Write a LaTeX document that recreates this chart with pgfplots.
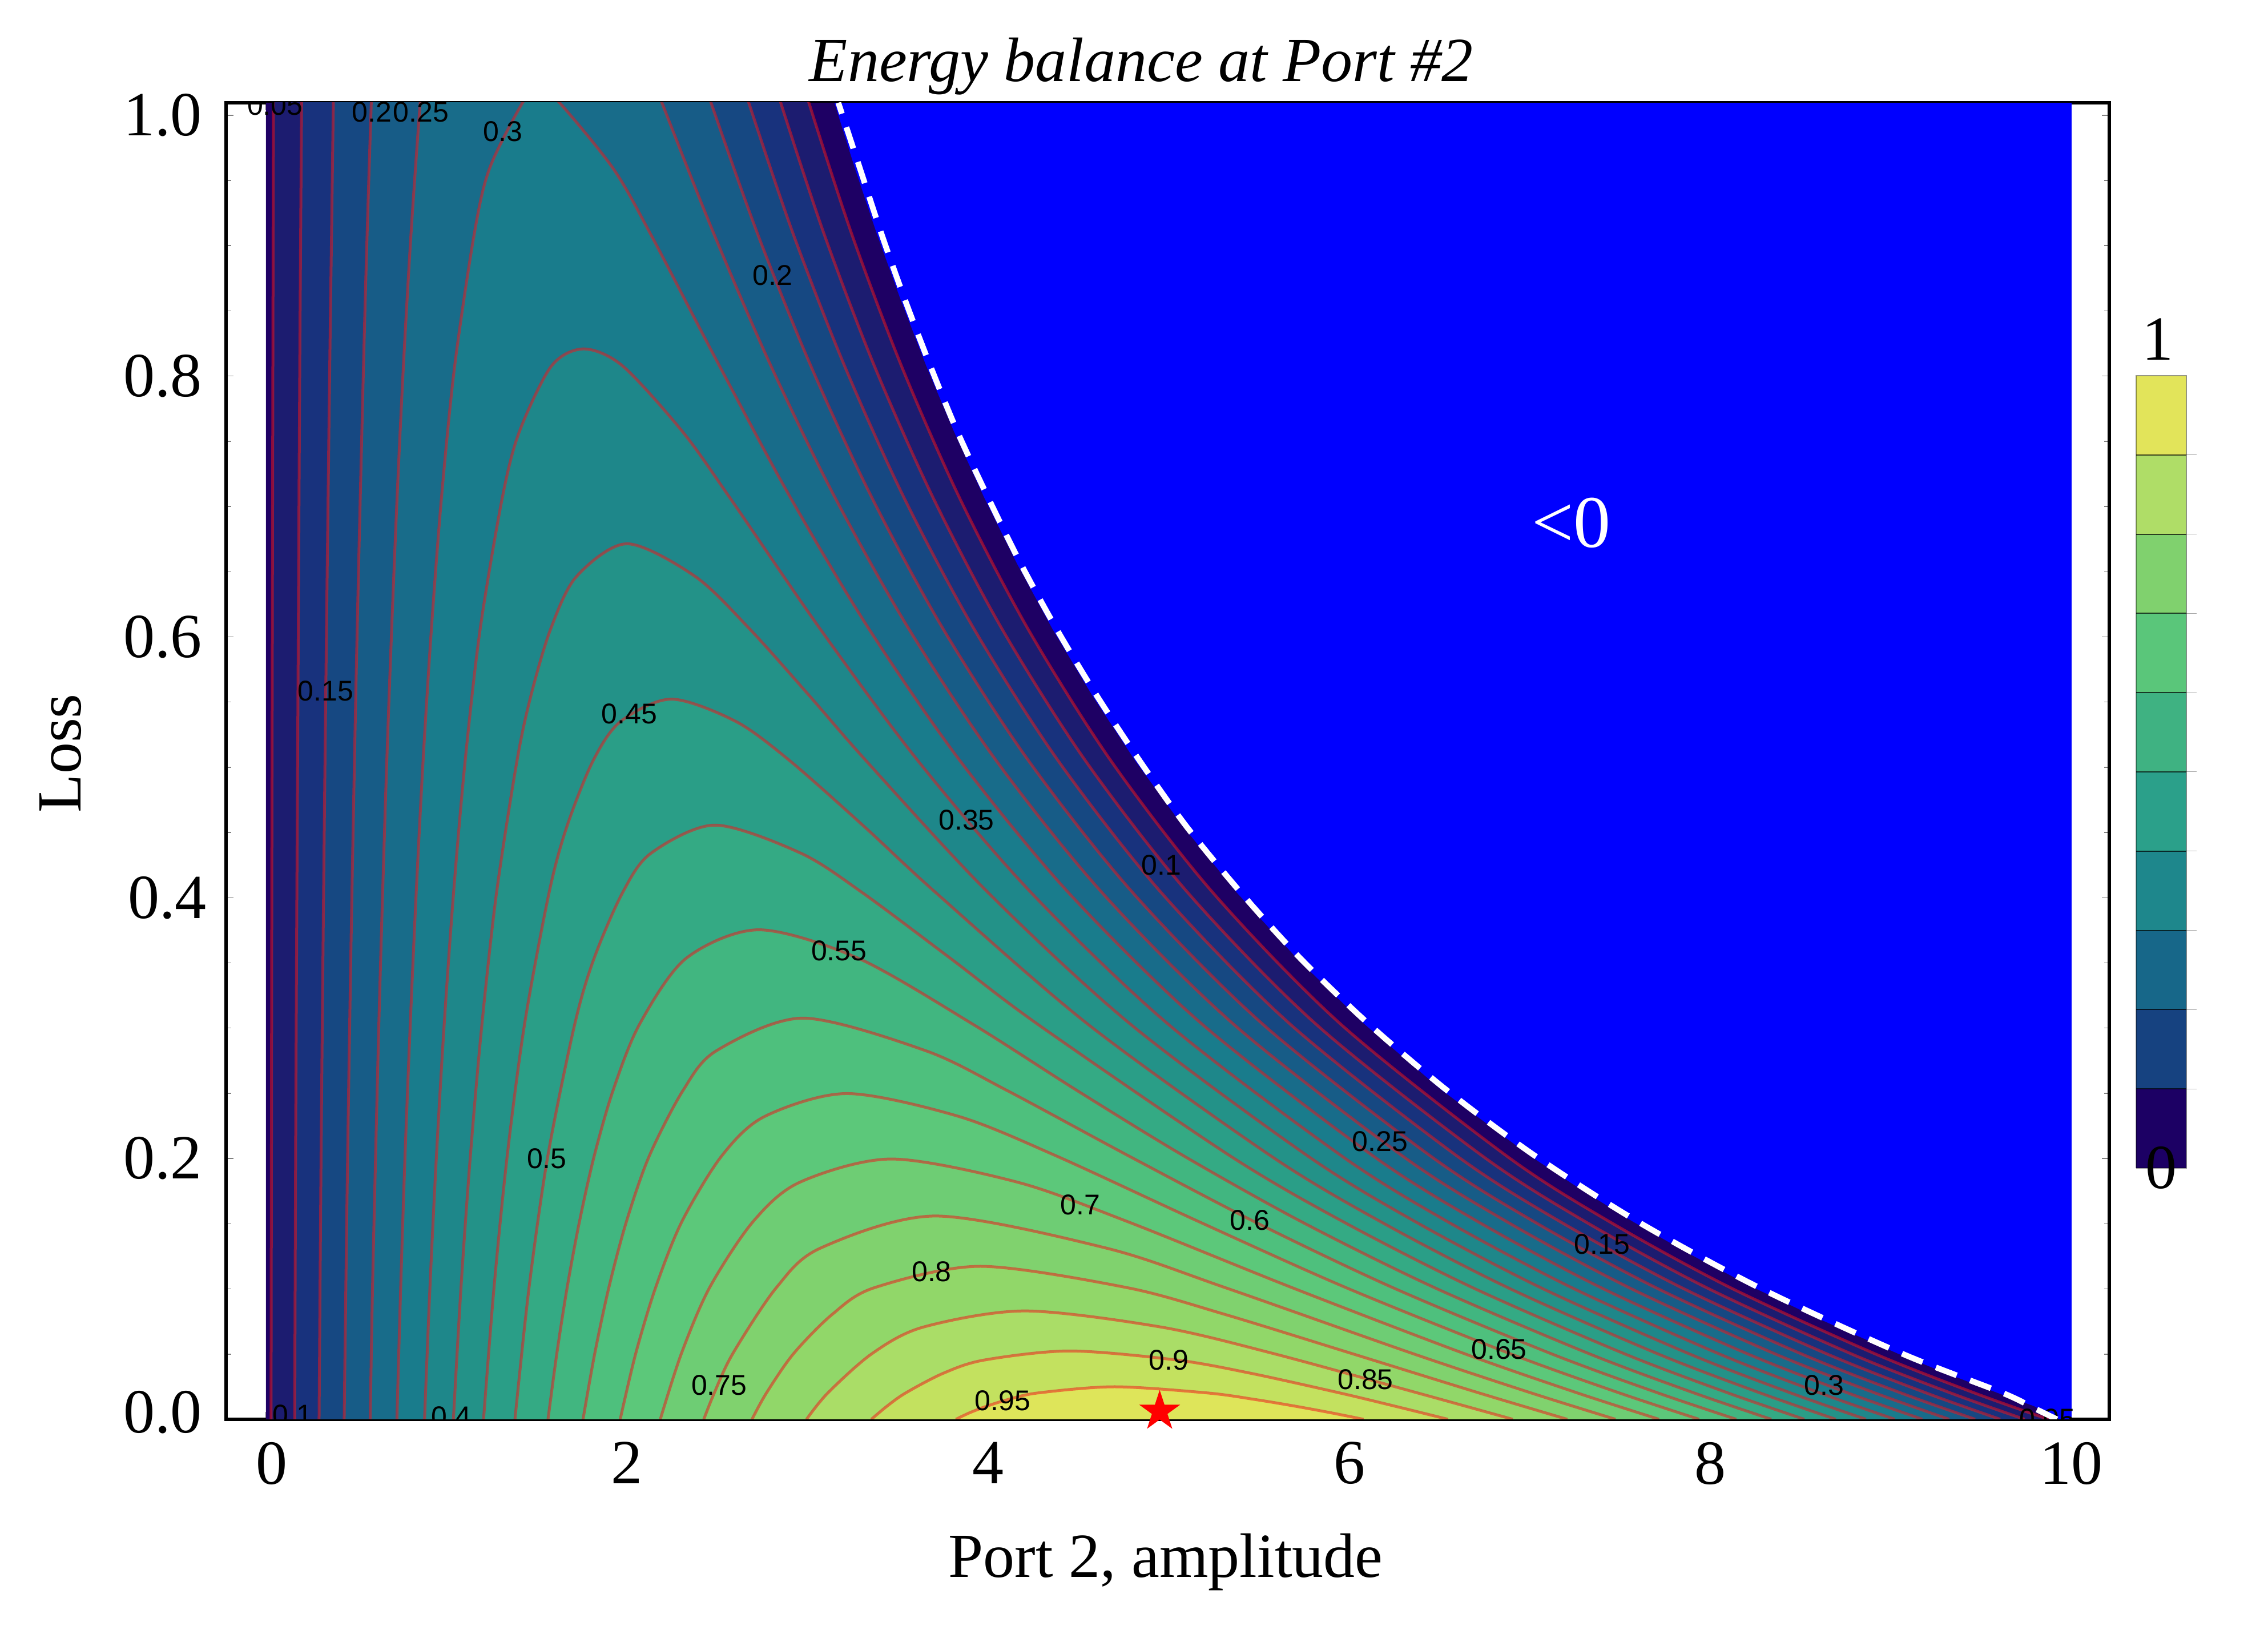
\documentclass[border=0pt]{standalone}
\usepackage{fontspec}
\setmainfont{Liberation Serif}
\newfontfamily\labfont{Liberation Sans}
\usepackage{pgfplots}
\usepackage{pgfplotstable}
\pgfplotsset{compat=1.18}
\pgfdeclareplotmark{fstar}{%
  \pgfpathmoveto{\pgfpointpolar{90}{\pgfplotmarksize}}%
  \pgfpathlineto{\pgfpointpolar{126}{.382\pgfplotmarksize}}%
  \pgfpathlineto{\pgfpointpolar{162}{\pgfplotmarksize}}%
  \pgfpathlineto{\pgfpointpolar{198}{.382\pgfplotmarksize}}%
  \pgfpathlineto{\pgfpointpolar{234}{\pgfplotmarksize}}%
  \pgfpathlineto{\pgfpointpolar{270}{.382\pgfplotmarksize}}%
  \pgfpathlineto{\pgfpointpolar{306}{\pgfplotmarksize}}%
  \pgfpathlineto{\pgfpointpolar{342}{.382\pgfplotmarksize}}%
  \pgfpathlineto{\pgfpointpolar{18}{\pgfplotmarksize}}%
  \pgfpathlineto{\pgfpointpolar{54}{.382\pgfplotmarksize}}%
  \pgfpathclose\pgfusepathqfill}
\definecolor{c00}{RGB}{30,0,100}
\definecolor{c05}{RGB}{28,28,112}
\definecolor{c10}{RGB}{24,50,125}
\definecolor{c15}{RGB}{22,72,130}
\definecolor{c20}{RGB}{23,92,135}
\definecolor{c25}{RGB}{24,108,138}
\definecolor{c30}{RGB}{25,124,140}
\definecolor{c35}{RGB}{30,135,138}
\definecolor{c40}{RGB}{35,146,136}
\definecolor{c45}{RGB}{42,158,135}
\definecolor{c50}{RGB}{52,170,132}
\definecolor{c55}{RGB}{65,182,128}
\definecolor{c60}{RGB}{78,192,125}
\definecolor{c65}{RGB}{92,200,122}
\definecolor{c70}{RGB}{110,205,116}
\definecolor{c75}{RGB}{128,210,110}
\definecolor{c80}{RGB}{145,215,105}
\definecolor{c85}{RGB}{170,221,103}
\definecolor{c90}{RGB}{195,225,95}
\definecolor{c95}{RGB}{222,229,90}
\definecolor{b0}{RGB}{28,0,100}
\definecolor{b1}{RGB}{22,66,128}
\definecolor{b2}{RGB}{23,103,137}
\definecolor{b3}{RGB}{30,135,140}
\definecolor{b4}{RGB}{43,160,138}
\definecolor{b5}{RGB}{63,178,130}
\definecolor{b6}{RGB}{90,198,122}
\definecolor{b7}{RGB}{128,209,110}
\definecolor{b8}{RGB}{175,221,103}
\definecolor{b9}{RGB}{226,228,90}
\definecolor{cline}{RGB}{240,20,25}

% region of non-negative balance
\pgfplotstableread{
a L
0 0
0 1
3.148 1
3.262 .95
3.384 .9
3.516 .85
3.657 .8
3.811 .75
3.978 .7
4.159 .65
4.357 .6
4.575 .55
4.815 .5
5.081 .45
5.377 .4
5.71 .35
6.085 .3
6.512 .25
7.002 .2
7.278 .175
7.572 .15
7.892 .125
8.24 .1
8.622 .075
9.036 .05
9.305 .035
9.591 .02
9.792 .01
9.93 0
}\ctZ
\pgfplotstableread{
a L
.028 0
.030 .2
.032 .4
.035 .6
.038 .8
.041 1
.042 1.05
nan nan
2.899 1.05
3.007 1
3.245 .9
3.520 .8
3.841 .7
4.222 .6
4.681 .5
5.245 .4
5.954 .3
6.872 .2
7.443 .15
8.111 .1
8.908 .05
9.463 .02
9.872 0
}\ctA
\pgfplotstableread{
a L
.159 0
.164 .2
.171 .4
.179 .6
.187 .8
.197 1
.199 1.05
nan nan
2.742 1.05
2.851 1
3.092 .9
3.370 .8
3.695 .7
4.078 .6
4.540 .5
5.106 .4
5.817 .3
6.738 .2
7.309 .15
7.979 .1
8.776 .05
9.331 .02
9.741 0
}\ctB
\pgfplotstableread{
a L
.294 0
.305 .2
.319 .4
.335 .6
.353 .8
.363 .9
.373 1
.379 1.05
nan nan
2.562 1.05
2.674 1
2.921 .9
3.205 .8
3.534 .7
3.923 .6
4.389 .5
4.959 .4
5.674 .3
6.597 .2
7.170 .15
7.841 .1
8.640 .05
9.196 .02
9.606 0
}\ctC
\pgfplotstableread{
a L
.433 0
.452 .2
.476 .4
.505 .6
.540 .8
.560 .9
.583 1
.595 1.05
nan nan
2.346 1.05
2.465 1
2.724 .9
3.018 .8
3.356 .7
3.752 .6
4.225 .5
4.801 .4
5.522 .3
6.450 .2
7.025 .15
7.698 .1
8.499 .05
9.056 .02
9.467 0
}\ctD
\pgfplotstableread{
a L
.577 0
.590 .1
.607 .2
.625 .3
.646 .4
.669 .5
.696 .6
.726 .7
.761 .8
.803 .9
.854 1
.886 1.05
nan nan
2.055 1.05
2.193 1
2.482 .9
2.797 .8
3.152 .7
3.562 .6
4.046 .5
4.631 .4
5.360 .3
6.295 .2
6.874 .15
7.550 .1
8.353 .05
8.912 .02
9.323 0
}\ctE
\pgfplotstableread{
a L
.725 0
.746 .1
.770 .2
.799 .3
.832 .4
.870 .5
.916 .6
.972 .7
1.045 .8
1.153 .9
1.238 .95
1.421 1
1.51 1.013
1.626 1
1.923 .95
2.131 .9
2.512 .8
2.905 .7
3.341 .6
3.845 .5
4.445 .4
5.186 .3
6.132 .2
6.714 .15
7.394 .1
8.201 .05
8.762 .02
9.175 0
}\ctF
\pgfplotstableread{
a L
.878 0
.908 .1
.944 .2
.987 .3
1.039 .4
1.103 .5
1.186 .6
1.309 .7
1.403 .75
1.581 .8
1.76 .813
1.976 .8
2.308 .75
2.569 .7
3.071 .6
3.612 .5
4.238 .4
4.998 .3
5.958 .2
6.546 .15
7.232 .1
8.043 .05
8.607 .02
9.022 0
}\ctG
\pgfplotstableread{
a L
1.038 0
1.080 .1
1.132 .2
1.196 .3
1.277 .4
1.390 .5
1.468 .55
1.576 .6
1.719 .64
2.00 .665
2.379 .64
2.681 .6
3.007 .55
3.325 .5
4.000 .4
4.789 .3
5.770 .2
6.367 .15
7.060 .1
7.878 .05
8.445 .02
8.862 0
}\ctH
\pgfplotstableread{
a L
1.205 0
1.263 .1
1.336 .2
1.432 .3
1.568 .4
1.666 .45
1.811 .5
1.964 .53
2.245 .547
2.603 .53
2.903 .5
3.315 .45
3.710 .4
4.553 .3
5.566 .2
6.175 .15
6.878 .1
7.704 .05
8.276 .02
8.695 0
}\ctI
\pgfplotstableread{
a L
1.379 0
1.457 .1
1.561 .2
1.710 .3
1.817 .35
1.975 .4
2.133 .43
2.487 .4513
2.962 .43
3.303 .4
3.792 .35
4.275 .3
5.341 .2
5.967 .15
6.683 .1
7.520 .05
8.098 .02
8.521 0
}\ctJ
\pgfplotstableread{
a L
1.562 0
1.611 .05
1.668 .1
1.736 .15
1.818 .2
1.923 .25
2.069 .3
2.326 .35
2.73 .3718
3.283 .35
3.916 .3
4.489 .25
5.084 .2
5.736 .15
6.472 .1
7.325 .05
7.910 .02
8.338 0
}\ctK
\pgfplotstableread{
a L
1.756 0
1.821 .05
1.899 .1
1.996 .15
2.123 .2
2.311 .25
2.496 .28
2.974 .3047
3.653 .28
4.101 .25
4.779 .2
5.476 .15
6.241 .1
7.115 .05
7.710 .02
8.144 0
}\ctL
\pgfplotstableread{
a L
1.962 0
2.048 .05
2.158 .1
2.303 .15
2.524 .2
2.762 .23
3.218 .2474
3.838 .23
4.378 .2
5.169 .15
5.982 .1
6.888 .05
7.496 .02
7.938 0
}\ctM
\pgfplotstableread{
a L
2.184 0
2.301 .05
2.457 .1
2.697 .15
2.956 .18
3.464 .1977
4.165 .18
4.775 .15
5.683 .1
6.635 .05
7.264 .02
7.716 0
}\ctN
\pgfplotstableread{
a L
2.425 0
2.483 .02
2.586 .05
2.827 .1
3.071 .13
3.709 .1544
4.655 .13
5.313 .1
6.350 .05
7.008 .02
7.475 0
}\ctO
\pgfplotstableread{
a L
2.692 0
2.772 .02
2.923 .05
3.139 .08
3.371 .1
3.956 .1162
4.769 .1
5.303 .08
6.013 .05
6.719 .02
7.208 0
}\ctP
\pgfplotstableread{
a L
2.994 0
3.112 .02
3.358 .05
3.64 .07
4.203 .0823
4.96 .07
5.578 .05
6.379 .02
6.906 0
}\ctQ
\pgfplotstableread{
a L
3.353 0
3.440 .01
3.543 .02
3.752 .035
3.978 .045
4.452 .0519
5.046 .045
5.453 .035
5.948 .02
6.252 .01
6.547 0
}\ctR
\pgfplotstableread{
a L
3.821 0
3.898 .005
3.993 .01
4.110 .015
4.275 .02
4.70 .0247
5.216 .02
5.480 .015
5.699 .01
5.897 .005
6.079 0
}\ctS
% dashed white limit
\pgfplotstableread{
a L
9.92 0
9.80 .008
9.62 .02
9.06 .05
8.27 .1
7.60 .15
7.03 .2
6.54 .25
6.11 .3
5.73 .35
5.40 .4
5.10 .45
4.84 .5
4.60 .55
4.38 .6
4.18 .65
4.00 .7
3.83 .75
3.68 .8
3.54 .85
3.41 .9
3.29 .95
3.17 1
}\ctW

\newcommand\fillc[2]{\addplot[fill=#2,draw=none,smooth,tension=.5,forget plot] table[x=a,y=L] {#1};}
\newcommand\linec[1]{\addplot[draw=cline,draw opacity=.52,line width=.5pt,smooth,tension=.5,unbounded coords=jump,forget plot] table[x=a,y=L] {#1};}
\newcommand\clab[3]{\node[font=\labfont\fontsize{5}{6}\selectfont,inner sep=0pt,text=black] at (axis cs:#1,#2) {#3};}
\newcommand\cbar[3]{\addplot[fill=#1,draw=none,forget plot] coordinates {(0,#2) (1,#2) (1,#3) (0,#3)};}
\newcommand\cbl[1]{\addplot[draw=black,draw opacity=.7,line width=.2pt,forget plot] coordinates {(0,#1) (1,#1)};
\addplot[draw=black!35,line width=.1pt,forget plot] coordinates {(1,#1) (1.2,#1)};}

\begin{document}
\begin{tikzpicture}
\path[use as bounding box] (0,0) rectangle (397.3pt,285.5pt);
\begin{axis}[
  at={(39.6pt,36.9pt)},anchor=south west,
  scale only axis,width=329.9pt,height=230.6pt,
  xmin=-.2213,xmax=10.21,ymin=0,ymax=1,
  xtick={0,2,4,6,8,10},xticklabels={\hspace*{2pt}0,2,4,6,8,10},
  ytick={0,.1981,.3962,.5943,.7924,.9905},
  yticklabels={\raisebox{2.6pt}{0.0},0.2,{0.4\hspace*{-.8pt}},0.6,0.8,1.0},
  minor x tick num=3,
  minor ytick={.0495,.0991,.1486,.2476,.2972,.3467,.4457,.4953,.5448,.6438,.6934,.7429,.8419,.8915,.941},
  tick align=inside,
  major tick length=1.3pt,minor tick length=.9pt,
  every tick/.style={draw=black!50,line width=.15pt},
  axis line style={line width=.6pt},
  tick label style={font=\fontsize{11}{13}\selectfont},
  xticklabel style={inner sep=0pt,yshift=-3.8pt},
  yticklabel style={inner sep=0pt,xshift=-4pt},
  label style={font=\fontsize{11}{13}\selectfont},
  xlabel={Port 2, amplitude},
  xlabel style={at={(axis description cs:.499,-.1085)},anchor=center},
  ylabel={Loss},
  ylabel style={at={(axis description cs:-.088,.506)},anchor=center},
  title={\itshape Energy balance at Port \#2},
  every axis title shift=0pt,
  title style={at={(axis description cs:.486,1.0275)},anchor=center,font=\fontsize{11}{13}\selectfont},
]
\addplot[fill=blue,draw=none,forget plot] coordinates {(0,0) (10,0) (10,1) (0,1)};
\addplot[fill=c00,draw=none,forget plot] table[x=a,y=L] {\ctZ};
\fillc{\ctA}{c05}
\fillc{\ctB}{c10}
\fillc{\ctC}{c15}
\fillc{\ctD}{c20}
\fillc{\ctE}{c25}
\fillc{\ctF}{c30}
\fillc{\ctG}{c35}
\fillc{\ctH}{c40}
\fillc{\ctI}{c45}
\fillc{\ctJ}{c50}
\fillc{\ctK}{c55}
\fillc{\ctL}{c60}
\fillc{\ctM}{c65}
\fillc{\ctN}{c70}
\fillc{\ctO}{c75}
\fillc{\ctP}{c80}
\fillc{\ctQ}{c85}
\fillc{\ctR}{c90}
\fillc{\ctS}{c95}
\linec{\ctA}
\linec{\ctB}
\linec{\ctC}
\linec{\ctD}
\linec{\ctE}
\linec{\ctF}
\linec{\ctG}
\linec{\ctH}
\linec{\ctI}
\linec{\ctJ}
\linec{\ctK}
\linec{\ctL}
\linec{\ctM}
\linec{\ctN}
\linec{\ctO}
\linec{\ctP}
\linec{\ctQ}
\linec{\ctR}
\linec{\ctS}
\clab{.05}{.998}{0.05}
\clab{.586}{.993}{0.2}
\clab{.858}{.993}{0.25}
\clab{1.312}{.978}{0.3}
\clab{2.805}{.869}{0.2}
\clab{.33}{.553}{0.15}
\clab{2.013}{.536}{0.45}
\clab{3.88}{.455}{0.35}
\clab{4.96}{.421}{0.1}
\clab{3.174}{.356}{0.55}
\clab{6.17}{.211}{0.25}
\clab{1.555}{.198}{0.5}
\clab{4.51}{.163}{0.7}
\clab{5.45}{.151}{0.6}
\clab{7.4}{.133}{0.15}
\clab{3.687}{.112}{0.8}
\clab{6.83}{.053}{0.65}
\clab{5.0}{.045}{0.9}
\clab{6.09}{.03}{0.85}
\clab{2.51}{.026}{0.75}
\clab{4.08}{.014}{0.95}
\clab{8.63}{.026}{0.3}
\clab{.146}{.0035}{0.1}
\clab{1.025}{.002}{0.4}
\clab{9.866}{.0004}{0.05}
\addplot[draw=white,line width=1pt,dash pattern=on 3.9pt off 2.5pt,smooth,tension=.5,forget plot] table[x=a,y=L] {\ctW};
\node[text=white,font=\fontsize{13}{15}\selectfont,inner sep=0pt] at (axis cs:7.23,.681) {<0};
\end{axis}
\begin{axis}[
  at={(39.6pt,36.9pt)},anchor=south west,
  scale only axis,width=329.9pt,height=230.6pt,
  xmin=-.2213,xmax=10.21,ymin=0,ymax=1,
  hide axis,clip=false,
]
\addplot[only marks,mark=fstar,mark size=3.76pt,color=red,forget plot] coordinates {(4.95,.006)};
\end{axis}
\begin{axis}[
  at={(374.2pt,80.9pt)},anchor=south west,
  scale only axis,width=8.8pt,height=138.8pt,
  xmin=0,xmax=1,ymin=0,ymax=1,
  hide axis,clip=false,
]
\cbar{b0}{0}{.1}
\cbar{b1}{.1}{.2}
\cbar{b2}{.2}{.3}
\cbar{b3}{.3}{.4}
\cbar{b4}{.4}{.5}
\cbar{b5}{.5}{.6}
\cbar{b6}{.6}{.7}
\cbar{b7}{.7}{.8}
\cbar{b8}{.8}{.9}
\cbar{b9}{.9}{1}
\cbl{.1}\cbl{.2}\cbl{.3}\cbl{.4}\cbl{.5}\cbl{.6}\cbl{.7}\cbl{.8}\cbl{.9}
\addplot[draw=black,draw opacity=.4,line width=.15pt,forget plot] coordinates {(0,0) (1,0) (1,1) (0,1) (0,0)};
\node[font=\fontsize{11}{13}\selectfont,inner sep=0pt] at (axis cs:.43,1.046) {1};
\node[font=\fontsize{11}{13}\selectfont,inner sep=0pt] at (axis cs:.5,0) {0};
\end{axis}
\end{tikzpicture}
\end{document}
